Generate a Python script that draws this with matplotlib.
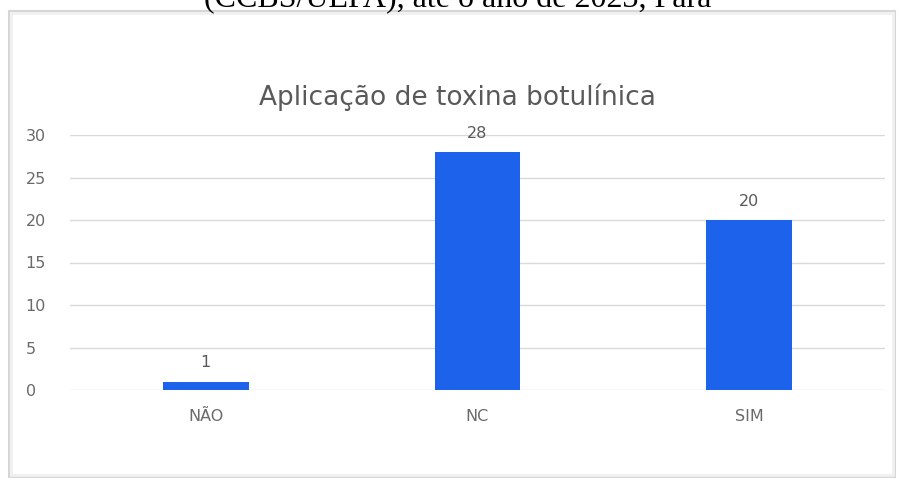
import matplotlib
matplotlib.use("Agg")
import matplotlib.pyplot as plt
from matplotlib.patches import Rectangle

categories = ["NÃO", "NC", "SIM"]
values = [1, 28, 20]
yticks = [0, 5, 10, 15, 20, 25, 30]
title = "Aplicação de toxina botulínica"
caption = "(CCBS/UEPA), até o ano de 2023, Pará"

W, H = 904, 478
fig = plt.figure(figsize=(W / 100, H / 100), dpi=100)
fig.patch.set_facecolor("white")

# chart frame
fig.patches.append(Rectangle((9 / W, 1 / H), (895 - 9) / W, (H - 12) / H,
                             transform=fig.transFigure, fill=False,
                             edgecolor="#d6d6d6", linewidth=1.5))
fig.patches.append(Rectangle((11 / W, 3 / H), (893 - 11) / W, (H - 16) / H,
                             transform=fig.transFigure, fill=False,
                             edgecolor="#f0f0f0", linewidth=2))

# caption (cut off at top, as in the source page)
fig.text(458 / W, 1 - 7 / H, caption, ha="center", va="baseline",
         family="Liberation Serif", fontsize=23, color="black")

ax = fig.add_axes([70 / W, 1 - 390 / H, (885 - 70) / W, (390 - 135) / H])
x = list(range(len(categories)))
ax.bar(x, values, width=0.315, color="#1d62ea", zorder=3)
for xi, v in zip(x, values):
    ax.text(xi, v + 1.3, str(v), ha="center", va="bottom",
            fontsize=11.5, color="#595959")

ax.set_xlim(-0.5, 2.5)
ax.set_ylim(0, 30)
ax.set_yticks(yticks)
ax.set_xticks(x)
ax.set_xticklabels(categories)
ax.grid(axis="y", color="#d9d9d9", linewidth=1, zorder=0)
for s in ax.spines.values():
    s.set_visible(False)
ax.tick_params(axis="both", length=0, labelsize=11.5, labelcolor="#6a6a6a")
ax.tick_params(axis="x", pad=14)
ax.tick_params(axis="y", pad=32)
for lab in ax.get_yticklabels():
    lab.set_ha("left")

fig.text(457 / W, 1 - 97 / H, title, ha="center", va="center",
         fontsize=19, color="#595959")

fig.savefig("out.png", dpi=100)
